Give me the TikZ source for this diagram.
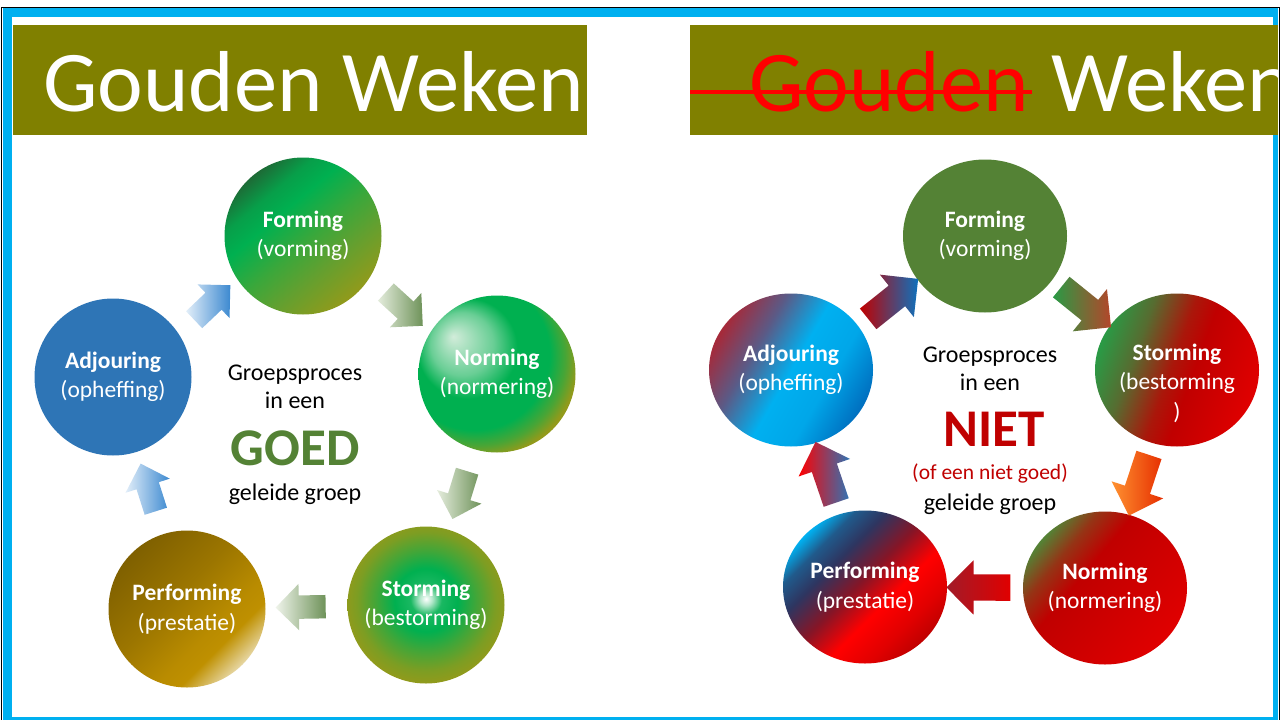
\documentclass[tikz,border=0pt]{standalone}
\usepackage{fontspec}
\setmainfont{Carlito}
\usetikzlibrary{shapes.arrows,shapes.geometric}

\definecolor{barOlive}{HTML}{808000}
\definecolor{frameCyan}{HTML}{00B0F0}
\definecolor{goedGreen}{HTML}{548235}
\definecolor{nietRed}{HTML}{C00000}
\definecolor{adjBlue}{HTML}{2E75B6}
\definecolor{msGreen}{HTML}{00B050}
\definecolor{deepGreen}{HTML}{1D6B36}
\definecolor{leafGreen}{HTML}{4FA238}
\definecolor{mossOlive}{HTML}{929A1B}
\definecolor{paleGreen}{HTML}{D2ECDA}
\definecolor{umber}{HTML}{7F6000}
\definecolor{goldL}{HTML}{BF9000}
\definecolor{paleGold}{HTML}{E6D6A2}
\definecolor{navy}{HTML}{2E3560}
\definecolor{maroon}{HTML}{A52A3A}
\definecolor{dusk}{HTML}{5B5A86}
\definecolor{blueR}{HTML}{0070C0}
\definecolor{grassGreen}{HTML}{2A9A45}
\definecolor{rust}{HTML}{B4462A}
\definecolor{flame}{HTML}{E00000}
\definecolor{skyPale}{HTML}{E2EEF9}
\definecolor{skyBlue}{HTML}{3C89D0}
\definecolor{sagePale}{HTML}{E4ECDC}
\definecolor{sage}{HTML}{6E9259}

%circle fillings, left picture
\pgfdeclarehorizontalshading{formingL}{100bp}{color(0bp)=(deepGreen); color(25bp)=(deepGreen);
  color(33bp)=(msGreen!75!deepGreen); color(40bp)=(msGreen); color(52bp)=(msGreen!60!mossOlive);
  color(62bp)=(leafGreen!70!mossOlive); color(75bp)=(mossOlive); color(100bp)=(mossOlive)}
\pgfdeclareradialshading{normingL}{\pgfpoint{-14bp}{12bp}}{color(0bp)=(paleGreen); color(10bp)=(paleGreen!50!msGreen);
  color(16bp)=(msGreen); color(24bp)=(msGreen); color(28bp)=(msGreen!50!mossOlive);
  color(31bp)=(mossOlive); color(50bp)=(mossOlive)}
\pgfdeclareradialshading{stormingL}{\pgfpoint{0bp}{2bp}}{color(0bp)=(white); color(2bp)=(white!70!msGreen);
  color(5bp)=(msGreen!90!white); color(10bp)=(msGreen); color(16bp)=(msGreen!55!mossOlive);
  color(22bp)=(mossOlive!85!msGreen); color(26bp)=(mossOlive); color(50bp)=(mossOlive)}
\pgfdeclarehorizontalshading{performingL}{100bp}{color(0bp)=(umber); color(25bp)=(umber);
  color(45bp)=(umber!55!goldL); color(60bp)=(goldL!90!umber); color(66bp)=(goldL);
  color(75bp)=(paleGold); color(100bp)=(paleGold)}
%circle fillings, right picture
\pgfdeclarehorizontalshading{adjouringR}{100bp}{color(0bp)=(maroon); color(25bp)=(maroon);
  color(37bp)=(dusk); color(50bp)=(frameCyan); color(62bp)=(frameCyan!85!blueR);
  color(75bp)=(blueR); color(100bp)=(blueR)}
\pgfdeclarehorizontalshading{stormingR}{100bp}{color(0bp)=(grassGreen); color(25bp)=(grassGreen);
  color(36bp)=(grassGreen!70!nietRed); color(48bp)=(nietRed!85!grassGreen); color(55bp)=(nietRed);
  color(75bp)=(flame); color(100bp)=(flame)}
\pgfdeclarehorizontalshading{normingR}{100bp}{color(0bp)=(goedGreen); color(25bp)=(goedGreen);
  color(33bp)=(goedGreen!40!nietRed); color(42bp)=(nietRed); color(75bp)=(flame);
  color(100bp)=(flame)}
\pgfdeclarehorizontalshading{performingR}{100bp}{color(0bp)=(frameCyan); color(25bp)=(frameCyan);
  color(31bp)=(navy!70!frameCyan); color(38bp)=(navy); color(48bp)=(navy!40!nietRed);
  color(58bp)=(red); color(68bp)=(flame); color(75bp)=(nietRed); color(100bp)=(nietRed)}

\tikzset{
  titleText/.style = {white, inner sep=0pt, font=\fontsize{86.5}{86.5}\selectfont},
  midText/.style = {black, inner sep=0pt, anchor=base, font=\fontsize{24}{28}\selectfont},
  bigText/.style = {midText, font=\fontsize{53}{53}\selectfont\bfseries},
  %phase circles
  phaseNode/.style = {align=center, inner sep=0pt, white, font=\fontsize{23.5}{29.5}\selectfont},
  phaseLeft/.style = {phaseNode, circle, minimum size=157},
  phaseRight/.style = {phaseNode, ellipse, minimum width=164, minimum height=153},
  %block arrows between the circles
  blockArrow/.style = {single arrow, inner xsep=0pt, single arrow head indent=0pt,
    sloped, allow upside down},
  arrowLeft/.style = {blockArrow, minimum height=50, inner ysep=11.5,
    single arrow head extend=11.5},
  arrowRight/.style = {blockArrow, minimum height=64, inner ysep=13,
    single arrow head extend=14}
}

\begin{document}
\begin{tikzpicture}[x=1pt, y=-1pt]
\useasboundingbox (0,0) rectangle (1283,720);
% frame
\fill[frameCyan] (2.5,8) rectangle (1278,722);
\fill[white] (12,17) rectangle (1273,717);
\draw[line width=1.5pt] (1.5,720) -- (1.5,7.5) -- (1279.5,7.5) -- (1279.5,720);
% titles
\fill[barOlive] (13,25) rectangle (587,135);
\fill[barOlive] (690,25) rectangle (1278,135);
\node[titleText, anchor=base west] (titleL) at (43,111) {Gouden Weken};
\begin{scope}
  \clip (690,25) rectangle (1278,135);
  \node[titleText, red, anchor=base west] (goudenR) at (749,111) {Gouden};
  \node[titleText, anchor=base west] (wekenR) at (1051,111) {Weken};
\end{scope}
\draw[red, line width=4pt] (690,92) -- (1032,92);

% left: goed geleide groep
\node[phaseLeft, shading=formingL, shading angle=-50] (fo) at (303,236) {\textbf{Forming}\\(vorming)};
\node[phaseLeft, shading=normingL] (no) at (497,374) {\textbf{Norming}\\(normering)};
\node[phaseLeft, shading=stormingL] (st) at (426,605) {\textbf{Storming}\\(bestorming)};
\node[phaseLeft, shading=performingL, shading angle=-45] (pe) at (187,609) {\textbf{Performing}\\(prestatie)};
\node[phaseLeft, fill=adjBlue] (ad) at (113,377) {\textbf{Adjouring}\\(opheffing)};

\path (ad) -- node[arrowLeft, rotate=7, left color=skyPale, right color=skyBlue] (a1) {} (fo);
\path (fo) -- node[arrowLeft, rotate=-7, left color=sagePale, right color=sage] (a2) {} (no);
\path (no) -- node[arrowLeft, left color=sagePale, right color=sage] (a3) {} (st);
\path (st) -- node[arrowLeft, left color=sagePale!60!white, right color=sage] (a4) {} (pe);
\path (pe) -- node[arrowLeft, left color=skyPale, right color=skyBlue] (a5) {} (ad);

\node[midText] (groepL) at (295,380) {Groepsproces};
\node[midText] (ineenL) at (295,408) {in een};
\node[bigText, goedGreen] (goed) at (295,465) {GOED};
\node[midText] (geleideL) at (295,500) {geleide groep};

% right: niet goed geleide groep
\node[phaseRight, fill=goedGreen] (foR) at (985,236) {\textbf{Forming}\\(vorming)};
\node[phaseRight, shading=stormingR, shading angle=-20] (stR) at (1177,370) {};
\node[phaseNode] (stRtext) at ([yshift=-13pt]stR) {\textbf{Storming}\\(bestorming\\)};
\node[phaseRight, shading=normingR, shading angle=-40] (noR) at (1105,588) {\textbf{Norming}\\(normering)};
\node[phaseRight, shading=performingR, shading angle=-45] (peR) at (865,587) {\textbf{Performing}\\(prestatie)};
\node[phaseRight, shading=adjouringR, shading angle=-30] (adR) at (791,370) {\textbf{Adjouring}\\(opheffing)};

\path (adR) -- node[arrowRight, rotate=4, left color=nietRed, middle color=dusk, right color=blueR!70!adjBlue] (b1) {} (foR);
\path (foR) -- node[arrowRight, rotate=-4, left color=grassGreen, right color=rust] (b2) {} (stR);
\path (stR) -- node[arrowRight, left color=orange!80!white!95!red, right color=red!60!orange!90!black] (b3) {} (noR);
\path (noR) -- node[arrowRight, left color=nietRed!70!dusk, middle color=nietRed, right color=flame] (b4) {} (peR);
\path (peR) -- node[arrowRight, left color=red, middle color=nietRed!75!dusk, right color=adjBlue] (b5) {} (adR);

\node[midText] (groepR) at (990,362) {Groepsproces};
\node[midText] (ineenR) at (990,390) {in een};
\node[bigText, nietRed] (niet) at (994,446) {NIET};
\node[midText, nietRed, font=\fontsize{21.5}{25}\selectfont] (ofeen) at (990,479) {(of een niet goed)};
\node[midText] (geleideR) at (990,510) {geleide groep};
\end{tikzpicture}
\end{document}
